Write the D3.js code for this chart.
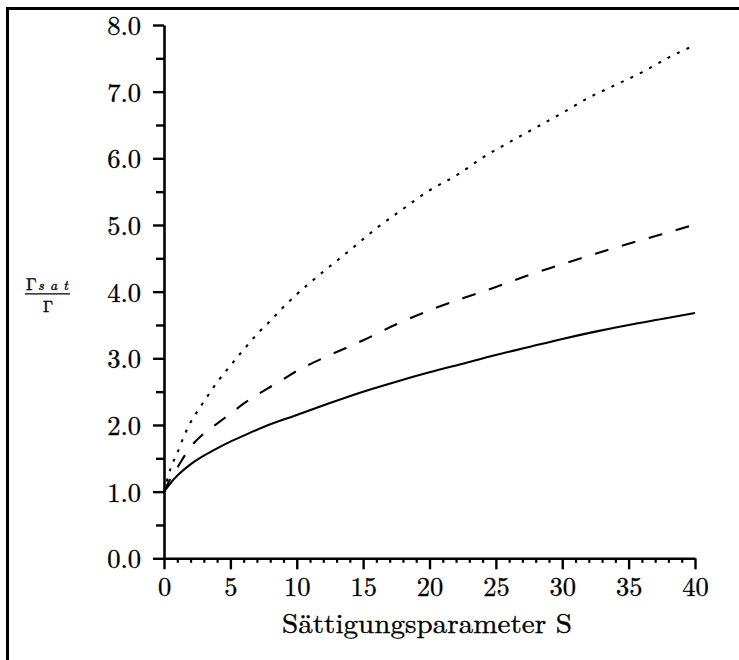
<!DOCTYPE html>
<html><head><meta charset="utf-8">
<script src="https://cdn.jsdelivr.net/npm/d3@7"></script>
<style>body{margin:0;background:#fff} svg{display:block}</style>
</head><body>
<svg id="c" width="739" height="660"></svg>
<script>
// Data
const sSolid  = [0, 0.5, 1, 2, 3, 4, 5, 6, 7.5, 10, 12.5, 15, 17.5, 20, 22.5, 25, 27.5, 30, 32.5, 35, 37.5, 40];
const vSolid  = [1.0, 1.13, 1.24, 1.41, 1.54, 1.65, 1.75, 1.84, 1.97, 2.15, 2.33, 2.50, 2.65, 2.79, 2.92, 3.05, 3.17, 3.29, 3.40, 3.50, 3.59, 3.68];

const sDashed = [0, 0.5, 1, 2, 3, 4, 5, 6, 7, 8, 9, 10, 12.5, 15, 17.5, 20, 22.5, 25, 27.5, 30, 32.5, 35, 37.5, 40];
const vDashed = [1.0, 1.20, 1.36, 1.67, 1.87, 2.02, 2.17, 2.32, 2.45, 2.57, 2.69, 2.81, 3.05, 3.27, 3.51, 3.72, 3.90, 4.07, 4.25, 4.41, 4.57, 4.72, 4.86, 5.01];

const sDotted = [0, 0.5, 1, 1.5, 2, 2.5, 3, 4, 5, 6, 7, 8, 9, 10, 12, 14, 16, 18, 20, 22, 24, 26, 28, 30, 32, 34, 36, 38, 40];
const vDotted = [1.0, 1.35, 1.58, 1.83, 2.04, 2.20, 2.35, 2.64, 2.89, 3.13, 3.36, 3.56, 3.77, 3.96, 4.30, 4.62, 4.95, 5.24, 5.52, 5.74, 6.01, 6.24, 6.46, 6.68, 6.91, 7.10, 7.29, 7.51, 7.70];

const xTicks = [0, 5, 10, 15, 20, 25, 30, 35, 40];
const xMinor = d3.range(0, 41, 1).filter(d => d % 5 !== 0);
const yTicks = [0, 1, 2, 3, 4, 5, 6, 7, 8];
const yMinor = [0.5, 1.5, 2.5, 3.5, 4.5, 5.5, 6.5, 7.5];
const xTitle = "Sättigungsparameter S";

const FONT = '"Latin Modern Roman"';
const svg = d3.select("#c");

const x = d3.scaleLinear().domain([0, 40]).range([164, 695]);
const y = d3.scaleLinear().domain([0, 8]).range([558.3, 25]);

// Frame (left and top)
svg.append("path")
  .attr("d", "M7.5,660 L7.5,8.5 L739,8.5")
  .attr("fill", "none").attr("stroke", "#000").attr("stroke-width", 3);

function heavy(sel) { return sel.attr("fill", "#000").attr("stroke", "#000").attr("stroke-width", 0.35); }

// Y axis
const yAxis = svg.append("g").attr("transform", `translate(${x(0)},0)`)
  .call(d3.axisLeft(y).tickValues(yTicks).tickSize(11).tickSizeOuter(0).tickPadding(12)
        .tickFormat(d3.format(".1f")));
yAxis.attr("font-family", null).attr("font-size", null);
yAxis.select(".domain").attr("stroke-width", 2.6);
yAxis.selectAll(".tick line").attr("stroke-width", 2.4);
heavy(yAxis.selectAll(".tick text").style("font-family", FONT).style("font-size", "26.5px")
  .attr("dy", "0.36em"));
const yMin = svg.append("g").attr("transform", `translate(${x(0)},0)`)
  .call(d3.axisLeft(y).tickValues(yMinor).tickSize(8).tickSizeOuter(0).tickFormat(""));
yMin.select(".domain").remove();
yMin.selectAll(".tick line").attr("stroke-width", 2.4);

// X axis
const xAxis = svg.append("g").attr("transform", `translate(0,${y(0)})`)
  .call(d3.axisBottom(x).tickValues(xTicks).tickSize(11).tickSizeOuter(0).tickPadding(10)
        .tickFormat(d3.format("d")));
xAxis.attr("font-family", null).attr("font-size", null);
xAxis.select(".domain").attr("stroke-width", 2.6);
xAxis.selectAll(".tick line").attr("stroke-width", 2.4);
heavy(xAxis.selectAll(".tick text").style("font-family", FONT).style("font-size", "26.5px")
  .attr("dy", "0.64em"));
const xMin = svg.append("g").attr("transform", `translate(0,${y(0)})`)
  .call(d3.axisBottom(x).tickValues(xMinor).tickSize(4.5).tickSizeOuter(0).tickFormat(""));
xMin.select(".domain").remove();
xMin.selectAll(".tick line").attr("stroke-width", 2.2);

// Curves
const line = d3.line().x(d => x(d[0])).y(d => y(d[1])).curve(d3.curveMonotoneX);
const series = [
  {s: sSolid,  v: vSolid,  dash: null},
  {s: sDashed, v: vDashed, dash: "14,14"},
  {s: sDotted, v: vDotted, dash: "3,7.5"}
];
series.forEach(ser => {
  svg.append("path")
    .attr("d", line(ser.s.map((s, i) => [s, ser.v[i]])))
    .attr("fill", "none").attr("stroke", "#000").attr("stroke-width", 2.1)
    .attr("stroke-dasharray", ser.dash);
});

// X title
heavy(svg.append("text").attr("x", 282).attr("y", 633)
  .style("font-family", FONT).style("font-size", "28px")
  .attr("textLength", 290).attr("lengthAdjust", "spacingAndGlyphs")
  .text(xTitle));

// Y label: fraction Γ_sat / Γ
heavy(svg.append("text").attr("x", 26).attr("y", 289.5)
  .style("font-family", FONT).style("font-size", "17px").text("Γ"));
heavy(svg.append("text").attr("x", 38).attr("y", 290)
  .style("font-family", FONT).style("font-size", "14px").style("font-style", "italic")
  .attr("textLength", 30).attr("lengthAdjust", "spacing").text("sat"));
svg.append("line").attr("x1", 25).attr("x2", 70).attr("y1", 293.8).attr("y2", 293.8)
  .attr("stroke", "#000").attr("stroke-width", 1.3);
heavy(svg.append("text").attr("x", 48).attr("y", 311.5).attr("text-anchor", "middle")
  .style("font-family", FONT).style("font-size", "16px").text("Γ"));
</script>
</body></html>
